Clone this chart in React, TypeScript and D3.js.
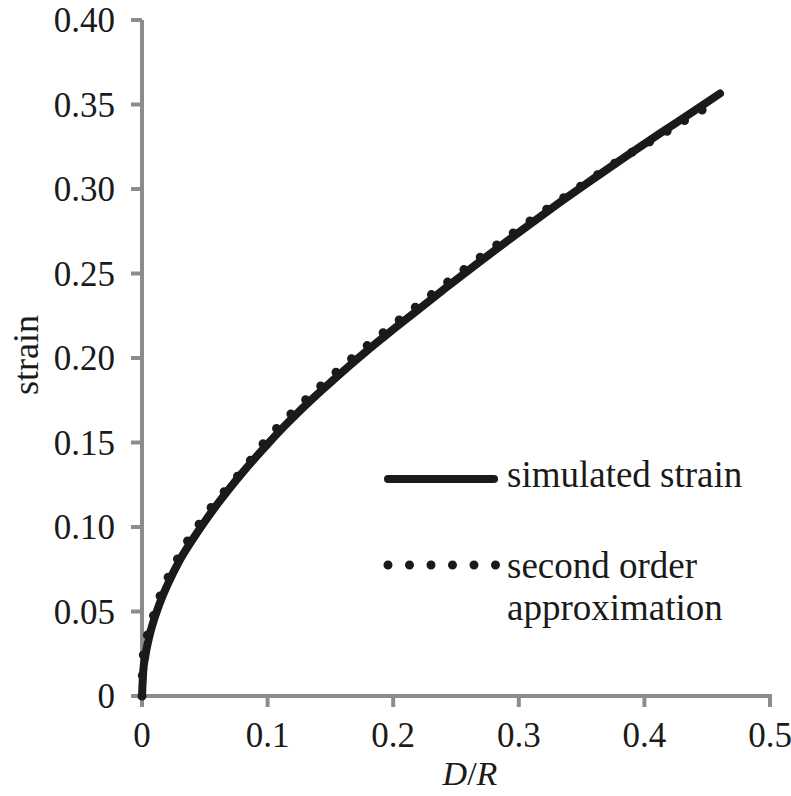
import React from "react";
import * as d3 from "d3";

const simX = [0, 0.001, 0.0025, 0.006, 0.0098, 0.0125, 0.016, 0.021, 0.03, 0.04, 0.05, 0.06, 0.07, 0.08, 0.09, 0.1, 0.1125, 0.125, 0.139, 0.1525, 0.1656, 0.18, 0.192, 0.2, 0.216, 0.2426, 0.2691, 0.2956, 0.3222, 0.3328, 0.3487, 0.3593, 0.3859, 0.4124, 0.439, 0.4602];
const simY = [0, 0.0146, 0.023, 0.0358, 0.0457, 0.0516, 0.0584, 0.0669, 0.0803, 0.0923, 0.1033, 0.1135, 0.1231, 0.1322, 0.1408, 0.149, 0.159, 0.1683, 0.1781, 0.1871, 0.1957, 0.2048, 0.2121, 0.2169, 0.2263, 0.2419, 0.2571, 0.2719, 0.2864, 0.2921, 0.3005, 0.306, 0.3196, 0.3329, 0.3459, 0.3565];

const apxX = [0, 0.0005, 0.0045, 0.0098, 0.0143, 0.0209, 0.0289, 0.0369, 0.0462, 0.055, 0.065, 0.08, 0.1, 0.125, 0.1525, 0.18, 0.2, 0.2426, 0.2691, 0.2956, 0.3222, 0.3381, 0.3593, 0.3859, 0.4124, 0.4363, 0.45];
const apxY = [0, 0.02, 0.037, 0.049, 0.059, 0.0705, 0.082, 0.0925, 0.1025, 0.1115, 0.1205, 0.1335, 0.1525, 0.1715, 0.1903, 0.2078, 0.2197, 0.2445, 0.2595, 0.274, 0.288, 0.296, 0.3068, 0.3198, 0.3315, 0.3425, 0.3485];

const xTicks = [0, 0.1, 0.2, 0.3, 0.4, 0.5];
const xTickLabels = ["0", "0.1", "0.2", "0.3", "0.4", "0.5"];
const yTicks = [0, 0.05, 0.1, 0.15, 0.2, 0.25, 0.3, 0.35, 0.4];
const yTickLabels = ["0", "0.05", "0.10", "0.15", "0.20", "0.25", "0.30", "0.35", "0.40"];

const seriesNames = ["simulated strain", "second order", "approximation"];

const FONT = "'Liberation Serif', 'Times New Roman', serif";
const AXIS = "#8c8c8c";
const INK = "#1a1a1a";

export default function App() {
  const x = d3.scaleLinear().domain([0, 0.5]).range([142, 770]);
  const y = d3.scaleLinear().domain([0, 0.4]).range([696, 20]);

  const mk = (xs: number[], ys: number[]) =>
    d3
      .line<number>()
      .x((i) => x(xs[i]))
      .y((i) => y(ys[i]))
      .curve(d3.curveMonotoneX)(xs.map((_, i) => i)) || "";

  const simPath = mk(simX, simY);
  const apxPath = mk(apxX, apxY);

  return (
    <svg
      width={791}
      height={796}
      style={{ position: "absolute", left: 0, top: 0, background: "#fff" }}
      fontFamily={FONT}
    >
      <rect x={0} y={0} width={791} height={796} fill="#fff" />
      {/* axes */}
      <line x1={x(0)} x2={x(0)} y1={y(0.4)} y2={y(0) + 2} stroke={AXIS} strokeWidth={4} />
      <line x1={x(0) - 2} x2={x(0.5) + 2} y1={y(0)} y2={y(0)} stroke={AXIS} strokeWidth={4} />
      {yTicks.map((t, i) => (
        <g key={"y" + i}>
          <line x1={x(0) - 11} x2={x(0)} y1={y(t)} y2={y(t)} stroke={AXIS} strokeWidth={4} />
          <text x={115} y={y(t) + 12} textAnchor="end" fontSize={35} fill={INK}>
            {yTickLabels[i]}
          </text>
        </g>
      ))}
      {xTicks.map((t, i) => (
        <g key={"x" + i}>
          <line x1={x(t)} x2={x(t)} y1={y(0)} y2={y(0) + 11} stroke={AXIS} strokeWidth={4} />
          <text x={x(t)} y={747} textAnchor="middle" fontSize={35} fill={INK}>
            {xTickLabels[i]}
          </text>
        </g>
      ))}
      {/* axis titles */}
      <text x={470} y={785} textAnchor="middle" fontSize={34} fill={INK}>
        <tspan fontStyle="italic">D</tspan>
        <tspan>/</tspan>
        <tspan fontStyle="italic">R</tspan>
      </text>
      <text
        transform="translate(38,355) rotate(-90)"
        textAnchor="middle"
        fontSize={36}
        fill={INK}
      >
        strain
      </text>

      {/* series */}
      <path d={simPath} fill="none" stroke={INK} strokeWidth={8} strokeLinecap="round" strokeLinejoin="round" />
      <path
        d={apxPath}
        fill="none"
        stroke={INK}
        strokeWidth={9}
        strokeLinecap="round"
        strokeDasharray="0 20.5"
      />

      {/* legend */}
      <line x1={388} x2={494} y1={479} y2={479} stroke={INK} strokeWidth={8} strokeLinecap="round" />
      <text x={507} y={487} fontSize={37} fill={INK}>
        {seriesNames[0]}
      </text>
      <line
        x1={388}
        x2={496}
        y1={565}
        y2={565}
        stroke={INK}
        strokeWidth={9}
        strokeLinecap="round"
        strokeDasharray="0 21.5"
      />
      <text x={507} y={578} fontSize={37} fill={INK}>
        {seriesNames[1]}
      </text>
      <text x={507} y={620} fontSize={37} fill={INK}>
        {seriesNames[2]}
      </text>
    </svg>
  );
}
